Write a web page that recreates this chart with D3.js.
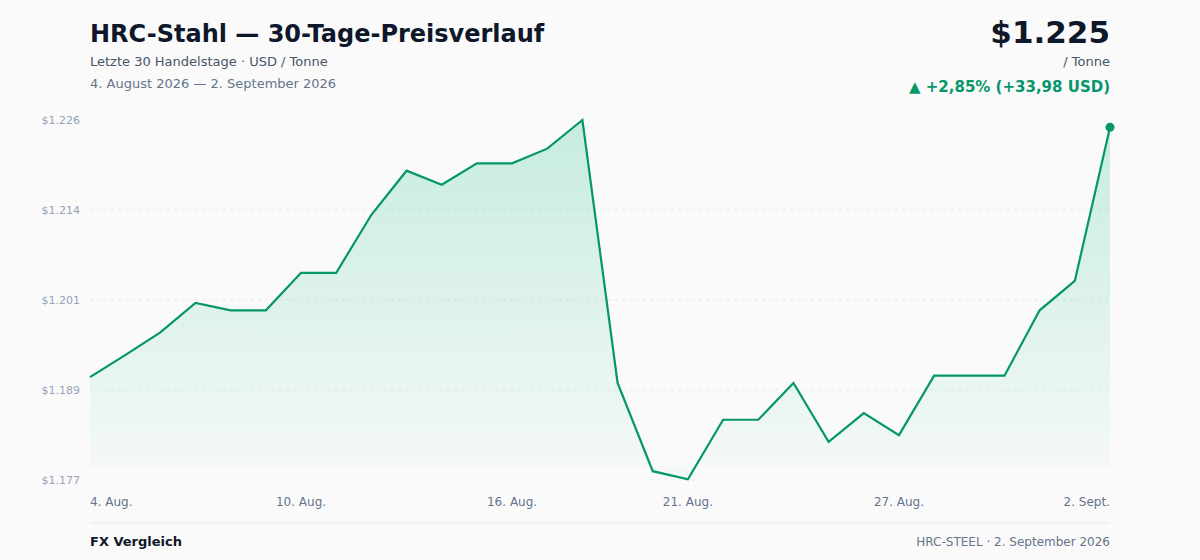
<!DOCTYPE html><html><head><meta charset="utf-8"><script src="https://cdn.jsdelivr.net/npm/d3@7"></script>
<style>body{margin:0;background:#fafafa;font-family:"DejaVu Sans",sans-serif}</style></head><body><svg id="c" width="1200" height="560"></svg>
<script>
const dayLabels=["4. Aug.","5. Aug.","6. Aug.","7. Aug.","8. Aug.","9. Aug.","10. Aug.","11. Aug.","12. Aug.","13. Aug.","14. Aug.","15. Aug.","16. Aug.","17. Aug.","18. Aug.","19. Aug.","20. Aug.","21. Aug.","22. Aug.","23. Aug.","24. Aug.","25. Aug.","26. Aug.","27. Aug.","28. Aug.","29. Aug.","30. Aug.","31. Aug.","1. Sept.","2. Sept."];
const prices=[1191.0,1194.0,1197.1,1201.1,1200.1,1200.1,1205.2,1205.2,1213.1,1219.1,1217.2,1220.1,1220.1,1222.1,1226.0,1190.2,1178.2,1177.1,1185.2,1185.2,1190.2,1182.2,1186.1,1183.1,1191.2,1191.2,1191.2,1200.1,1204.1,1225.0];
const xTickIdx=[0,6,12,17,23,29];
const yTicks=[1177,1189.25,1201.5,1213.75,1226];
const yTickLabels=["$1.177","$1.189","$1.201","$1.214","$1.226"];
const svg=d3.select("#c");
const x=d3.scaleLinear().domain([0,prices.length-1]).range([90,1110]);
const y=d3.scaleLinear().domain([1177,1226]).range([480,120]);
const green="#059669";
const defs=svg.append("defs");
const g=defs.append("linearGradient").attr("id","gr").attr("x1",0).attr("x2",0).attr("y1",0).attr("y2",1);
g.append("stop").attr("offset","0%").attr("stop-color","#10b981").attr("stop-opacity",0.22);
g.append("stop").attr("offset","100%").attr("stop-color","#10b981").attr("stop-opacity",0.02);
yTicks.forEach((t,i)=>{
 svg.append("line").attr("x1",90).attr("x2",1110).attr("y1",y(t)).attr("y2",y(t)).attr("stroke","#e6e8ec").attr("stroke-dasharray","3,4");
 svg.append("text").attr("x",80).attr("y",y(t)+4).attr("text-anchor","end").attr("font-size",11).attr("fill","#94a3b8").text(yTickLabels[i]);
});
svg.append("path").datum(prices).attr("fill","url(#gr)").attr("d",d3.area().x((d,i)=>x(i)).y0(466).y1(d=>y(d)));
svg.append("path").datum(prices).attr("fill","none").attr("stroke",green).attr("stroke-width",2.2).attr("d",d3.line().x((d,i)=>x(i)).y(d=>y(d)));
svg.append("circle").attr("cx",x(29)).attr("cy",y(prices[29])).attr("r",4.5).attr("fill",green);
xTickIdx.forEach(i=>{
 svg.append("text").attr("x",x(i)).attr("y",506).attr("font-size",12).attr("fill","#64748b").attr("text-anchor",i==0?"start":i==29?"end":"middle").text(dayLabels[i]);
});
svg.append("text").attr("x",90).attr("y",42).attr("font-size",24).attr("font-weight","bold").attr("fill","#0f172a").text("HRC-Stahl — 30-Tage-Preisverlauf");
svg.append("text").attr("x",90).attr("y",66).attr("font-size",13).attr("fill","#475569").text("Letzte 30 Handelstage · USD / Tonne");
svg.append("text").attr("x",90).attr("y",88).attr("font-size",13).attr("fill","#64748b").text("4. August 2026 — 2. September 2026");
svg.append("text").attr("x",1110).attr("y",43).attr("font-size",31).attr("font-weight","bold").attr("fill","#0f172a").attr("text-anchor","end").text("$1.225");
svg.append("text").attr("x",1110).attr("y",66).attr("font-size",13).attr("fill","#475569").attr("text-anchor","end").text("/ Tonne");
svg.append("text").attr("x",1110).attr("y",92).attr("font-size",15).attr("font-weight","bold").attr("fill",green).attr("text-anchor","end").text("▲ +2,85% (+33,98 USD)");
svg.append("line").attr("x1",90).attr("x2",1110).attr("y1",523).attr("y2",523).attr("stroke","#e5e7eb");
svg.append("text").attr("x",90).attr("y",546).attr("font-size",13).attr("font-weight","bold").attr("fill","#0f172a").text("FX Vergleich");
svg.append("text").attr("x",1110).attr("y",546).attr("font-size",12).attr("fill","#64748b").attr("text-anchor","end").text("HRC-STEEL · 2. September 2026");
</script></body></html>
